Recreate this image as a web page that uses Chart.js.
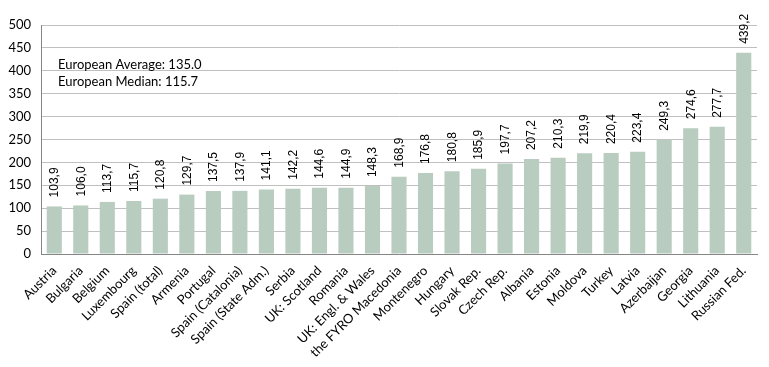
<!DOCTYPE html>
<html>
<head>
<meta charset="utf-8">
<script src="https://cdn.jsdelivr.net/npm/chart.js@4/dist/chart.umd.min.js"></script>
<style>
  html,body{margin:0;padding:0;background:#fff;}
  #wrap{width:769px;height:367px;position:relative;}
</style>
</head>
<body>
<div id="wrap"><canvas id="c"></canvas></div>
<script>
/* données */
const pays = ['Austria','Bulgaria','Belgium','Luxembourg','Spain (total)','Armenia','Portugal',
  'Spain (Catalonia)','Spain (State Adm.)','Serbia','UK: Scotland','Romania','UK: Engl. & Wales',
  'the FYRO Macedonia','Montenegro','Hungary','Slovak Rep.','Czech Rep.','Albania','Estonia',
  'Moldova','Turkey','Latvia','Azerbaijan','Georgia','Lithuania','Russian Fed.'];
const valeurs = [103.9,106.0,113.7,115.7,120.8,129.7,137.5,137.9,141.1,142.2,144.6,144.9,148.3,
  168.9,176.8,180.8,185.9,197.7,207.2,210.3,219.9,220.4,223.4,249.3,274.6,277.7,439.2];
const notes = ['European Average: 135.0','European Median: 115.7'];
const yMax = 500, yPas = 50;

const POLICE = 'Lato, "Open Sans", sans-serif';

/* étiquettes verticales au-dessus des barres + encart moyenne/médiane */
const etiquettes = {
  id:'etiquettes',
  afterDatasetsDraw(chart){
    const ctx = chart.ctx;
    const meta = chart.getDatasetMeta(0);
    ctx.save();
    ctx.fillStyle = '#000';
    ctx.font = '12px "Liberation Sans", Arial, sans-serif';
    ctx.textAlign = 'left';
    ctx.textBaseline = 'middle';
    meta.data.forEach((b,i)=>{
      ctx.save();
      ctx.translate(b.x + 0.5, b.y - 9);
      ctx.rotate(-Math.PI/2);
      ctx.fillText(valeurs[i].toFixed(1).replace('.',','), 0, 0);
      ctx.restore();
    });
    const a = chart.chartArea;
    ctx.font = '13px ' + POLICE;
    ctx.textBaseline = 'middle';
    notes.forEach((t,i)=> ctx.fillText(t, a.left + 17, a.top + 40 + i*17));
    ctx.restore();
  }
};

new Chart(document.getElementById('c'), {
  type:'bar',
  data:{labels:pays, datasets:[{data:valeurs, backgroundColor:'#b9ccc0', borderWidth:0,
    categoryPercentage:1, barPercentage:0.57}]},
  options:{
    responsive:true, maintainAspectRatio:false, animation:false,
    layout:{padding:{top:25, right:12, left:0, bottom:0}},
    plugins:{legend:{display:false}, tooltip:{enabled:false}},
    scales:{
      x:{
        grid:{display:false, drawTicks:false},
        border:{color:'#868686'},
        ticks:{color:'#000', font:{family:POLICE, size:13}, minRotation:45, maxRotation:45, autoSkip:false, padding:9},
        afterFit(s){ s.height = 113; }
      },
      y:{
        min:0, max:yMax,
        grid:{color:'#c0c0c0', drawTicks:false},
        border:{color:'#868686'},
        ticks:{stepSize:yPas, color:'#000', font:{family:POLICE, size:13}, padding:10},
        afterFit(s){ s.width = 41; }
      }
    }
  },
  plugins:[etiquettes]
});
</script>
</body>
</html>
